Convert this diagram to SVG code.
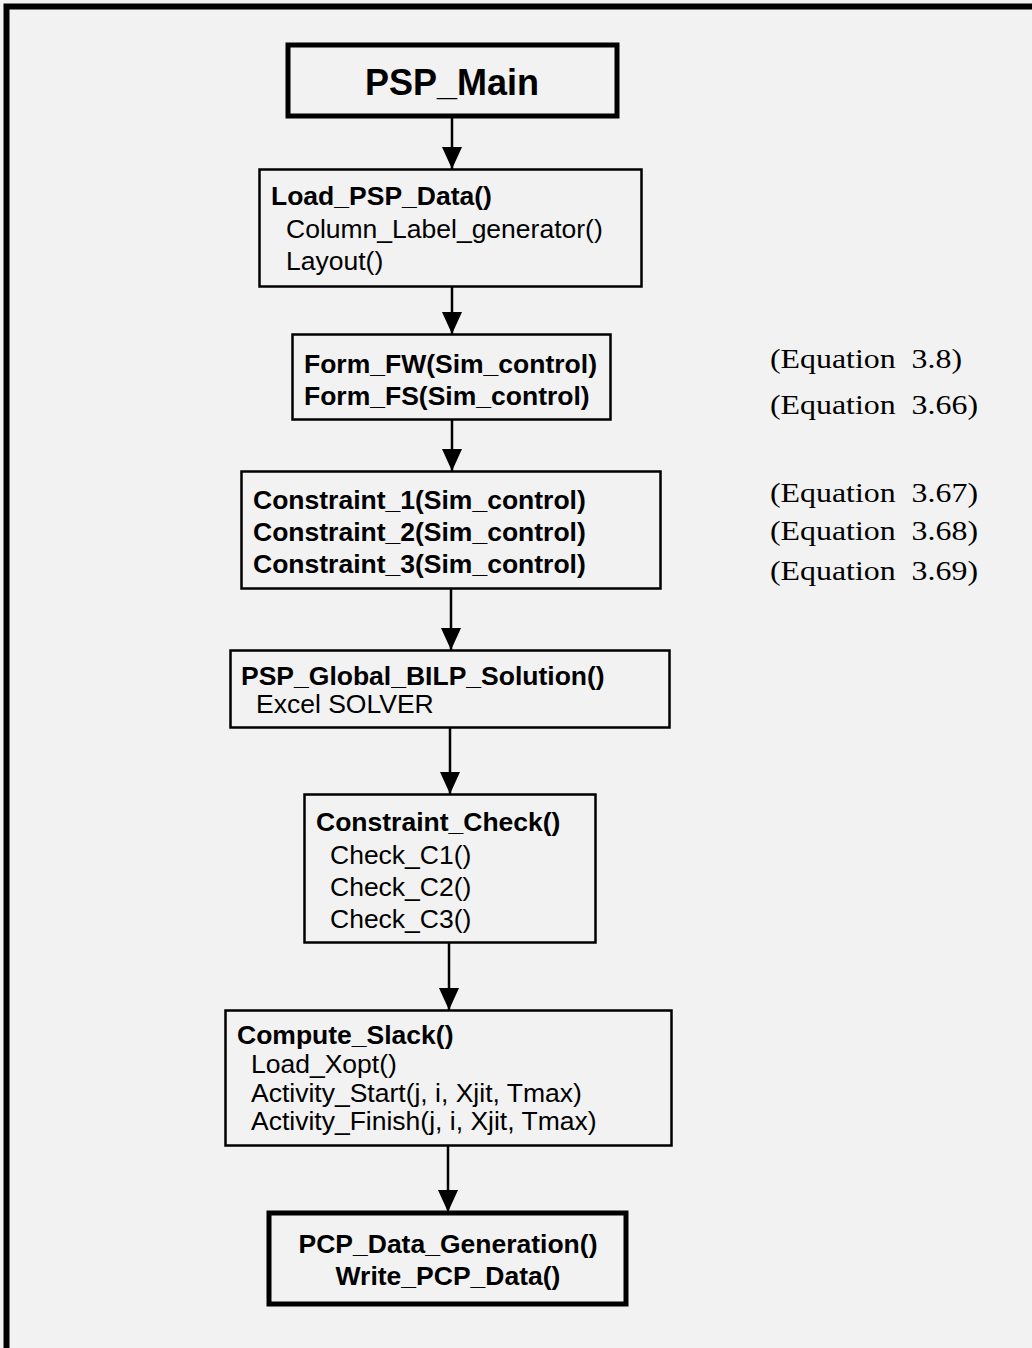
<svg xmlns="http://www.w3.org/2000/svg" width="1032" height="1348" viewBox="0 0 1032 1348">
  <defs>
    <style>
      .box { fill: none; stroke: #000; stroke-width: 2.5; }
      .thick { fill: none; stroke: #000; stroke-width: 5; }
      .b { font-family: "Liberation Sans", Arial, sans-serif; font-weight: bold; font-size: 26.5px; fill: #000; }
      .r { font-family: "Liberation Sans", Arial, sans-serif; font-size: 26.5px; fill: #000; }
      .title { font-family: "Liberation Sans", Arial, sans-serif; font-weight: bold; font-size: 36px; fill: #000; }
      .eq { font-family: "Liberation Serif", "Times New Roman", serif; font-size: 27px; fill: #000; }
      .conn { stroke: #000; stroke-width: 2.5; fill: none; marker-end: url(#arrow); }
    </style>
    <marker id="arrow" markerUnits="userSpaceOnUse" markerWidth="22" markerHeight="20" refX="22" refY="10" orient="auto" viewBox="0 0 22 20">
      <path d="M0,0 L22,10 L0,20 z" fill="#000"/>
    </marker>
  </defs>

  <!-- page background and frame -->
  <rect x="0" y="0" width="1032" height="1348" fill="#f2f2f2"/>
  <path d="M6.5,1348 V6.5 H1032" fill="none" stroke="#000" stroke-width="6"/>

  <!-- connectors -->
  <g id="connectors">
    <line class="conn" x1="452" y1="117" x2="452" y2="169"/>
    <line class="conn" x1="452" y1="287" x2="452" y2="334"/>
    <line class="conn" x1="452" y1="420" x2="452" y2="471"/>
    <line class="conn" x1="451" y1="589" x2="451" y2="650"/>
    <line class="conn" x1="450" y1="728" x2="450" y2="794"/>
    <line class="conn" x1="449" y1="943" x2="449" y2="1010"/>
    <line class="conn" x1="448" y1="1146" x2="448" y2="1212"/>
  </g>

  <g id="psp-main">
    <rect class="thick" x="288" y="45" width="329" height="71"/>
    <text class="title" x="452" y="95" text-anchor="middle">PSP_Main</text>
  </g>

  <g id="load-psp-data">
    <rect class="box" x="259.5" y="169.5" width="382" height="117"/>
    <text class="b" x="271" y="205">Load_PSP_Data()</text>
    <text class="r" x="286" y="238">Column_Label_generator()</text>
    <text class="r" x="286" y="270">Layout()</text>
  </g>

  <g id="form-fw-fs">
    <rect class="box" x="292.5" y="334.5" width="318" height="85"/>
    <text class="b" x="304" y="373">Form_FW(Sim_control)</text>
    <text class="b" x="304" y="405">Form_FS(Sim_control)</text>
  </g>

  <g id="constraints">
    <rect class="box" x="241.5" y="471.5" width="419" height="117"/>
    <text class="b" x="253" y="509">Constraint_1(Sim_control)</text>
    <text class="b" x="253" y="541">Constraint_2(Sim_control)</text>
    <text class="b" x="253" y="573">Constraint_3(Sim_control)</text>
  </g>

  <g id="bilp-solution">
    <rect class="box" x="230.5" y="650.5" width="439" height="77"/>
    <text class="b" x="241" y="685">PSP_Global_BILP_Solution()</text>
    <text class="r" x="256" y="713">Excel SOLVER</text>
  </g>

  <g id="constraint-check">
    <rect class="box" x="304.5" y="794.5" width="291" height="148"/>
    <text class="b" x="316" y="831">Constraint_Check()</text>
    <text class="r" x="330" y="864">Check_C1()</text>
    <text class="r" x="330" y="896">Check_C2()</text>
    <text class="r" x="330" y="928">Check_C3()</text>
  </g>

  <g id="compute-slack">
    <rect class="box" x="225.5" y="1010.5" width="446" height="135"/>
    <text class="b" x="237" y="1044">Compute_Slack()</text>
    <text class="r" x="251" y="1073">Load_Xopt()</text>
    <text class="r" x="251" y="1102">Activity_Start(j, i, Xjit, Tmax)</text>
    <text class="r" x="251" y="1130">Activity_Finish(j, i, Xjit, Tmax)</text>
  </g>

  <g id="pcp-data-generation">
    <rect class="thick" x="269" y="1213" width="357" height="91"/>
    <text class="b" x="448" y="1253" text-anchor="middle">PCP_Data_Generation()</text>
    <text class="b" x="448" y="1285" text-anchor="middle">Write_PCP_Data()</text>
  </g>

  <!-- equation references beside the steps -->
  <g id="equations">
    <text class="eq" x="770" y="368" textLength="192" lengthAdjust="spacingAndGlyphs" xml:space="preserve">(Equation  3.8)</text>
    <text class="eq" x="770" y="414" textLength="208" lengthAdjust="spacingAndGlyphs" xml:space="preserve">(Equation  3.66)</text>
    <text class="eq" x="770" y="502" textLength="208" lengthAdjust="spacingAndGlyphs" xml:space="preserve">(Equation  3.67)</text>
    <text class="eq" x="770" y="540" textLength="208" lengthAdjust="spacingAndGlyphs" xml:space="preserve">(Equation  3.68)</text>
    <text class="eq" x="770" y="580" textLength="208" lengthAdjust="spacingAndGlyphs" xml:space="preserve">(Equation  3.69)</text>
  </g>
</svg>
